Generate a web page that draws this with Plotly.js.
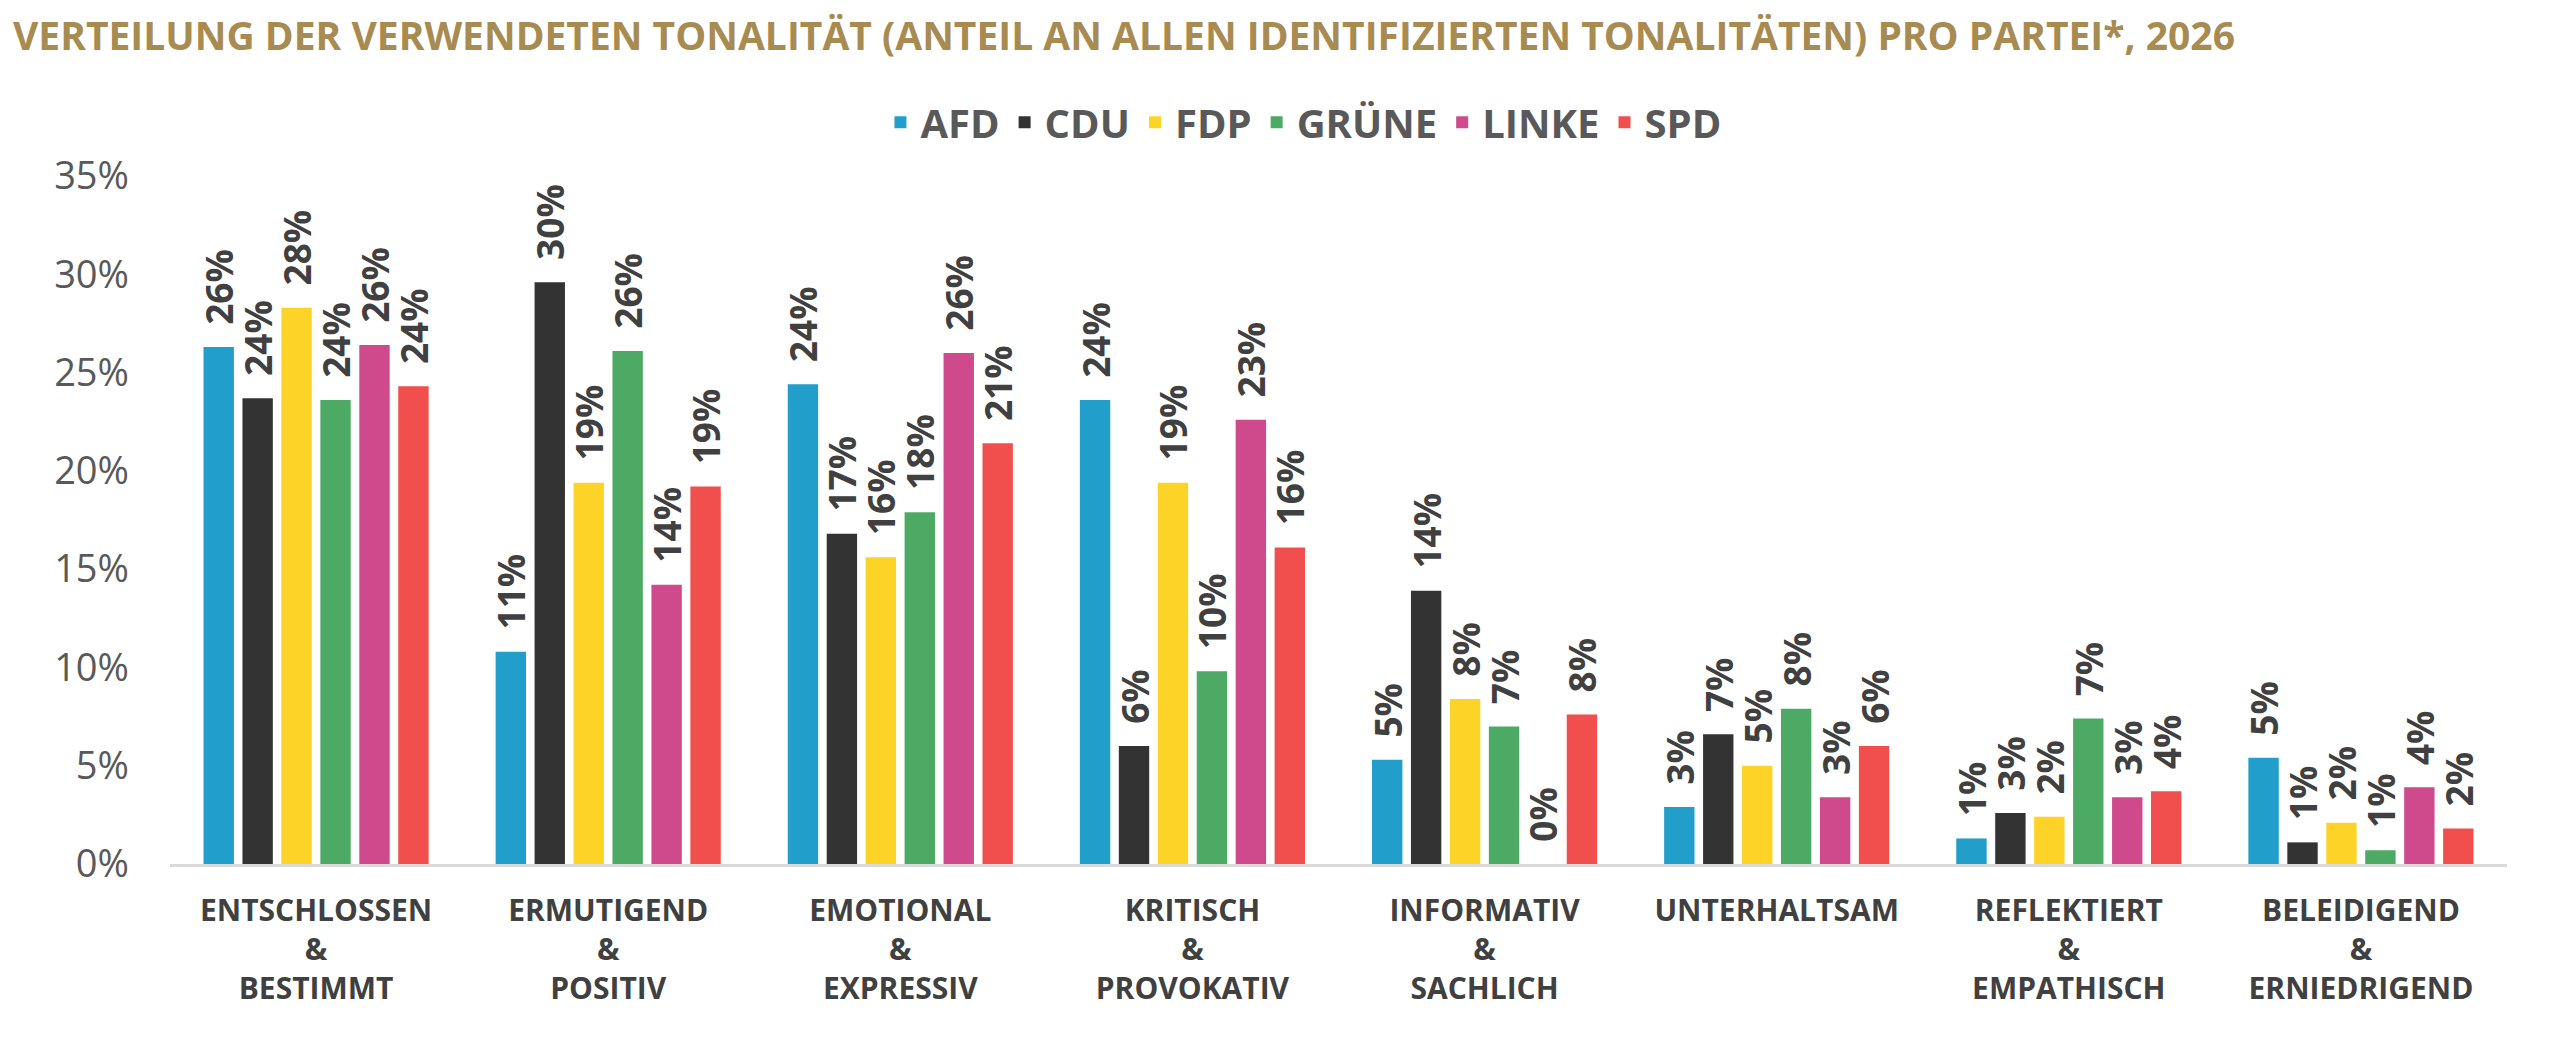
<!DOCTYPE html>
<html>
<head>
<meta charset="utf-8">
<script src="https://cdn.plot.ly/plotly-3.0.1.min.js"></script>
<style>
  html, body { margin: 0; padding: 0; background: #ffffff; }
  #chart { width: 2553px; height: 1054px; }
</style>
</head>
<body>
<div id="chart"></div>
<script>
const categories = [
  'ENTSCHLOSSEN<br>&<br>BESTIMMT',
  'ERMUTIGEND<br>&<br>POSITIV',
  'EMOTIONAL<br>&<br>EXPRESSIV',
  'KRITISCH<br>&<br>PROVOKATIV',
  'INFORMATIV<br>&<br>SACHLICH',
  'UNTERHALTSAM',
  'REFLEKTIERT<br>&<br>EMPATHISCH',
  'BELEIDIGEND<br>&<br>ERNIEDRIGEND'
];

const parties = ['AFD', 'CDU', 'FDP', 'GRÜNE', 'LINKE', 'SPD'];

const afd   = [26.3, 10.8, 24.4, 23.6, 5.3, 2.9, 1.3, 5.4];
const cdu   = [23.7, 29.6, 16.8, 6.0, 13.9, 6.6, 2.6, 1.1];
const fdp   = [28.3, 19.4, 15.6, 19.4, 8.4, 5.0, 2.4, 2.1];
const gruene= [23.6, 26.1, 17.9, 9.8, 7.0, 7.9, 7.4, 0.7];
const linke = [26.4, 14.2, 26.0, 22.6, 0.0, 3.4, 3.4, 3.9];
const spd   = [24.3, 19.2, 21.4, 16.1, 7.6, 6.0, 3.7, 1.8];

const seriesValues = [afd, cdu, fdp, gruene, linke, spd];
const colors = ['#219ECA', '#333333', '#FDD327', '#4DAA64', '#CF4A8D', '#F04F4E'];

const yTicks = [0, 5, 10, 15, 20, 25, 30, 35];

const traces = parties.map((p, i) => ({
  type: 'bar',
  name: p,
  x: categories,
  y: seriesValues[i],
  marker: { color: colors[i], line: { width: 0 } },
  texttemplate: '\u00A0\u00A0%{y:.0f}%',
  textposition: 'outside',
  textangle: -90,
  constraintext: 'none',
  cliponaxis: false,
  textfont: { family: 'Open Sans', size: 37, weight: 'bold', color: '#404040' },
  hoverinfo: 'skip'
}));

const layout = {
  width: 2553,
  height: 1054,
  paper_bgcolor: '#ffffff',
  plot_bgcolor: '#ffffff',
  margin: { l: 170, r: 46, t: 176, b: 190 },
  barmode: 'group',
  bargap: 0.2,
  bargroupgap: 0.22,
  title: {
    text: 'VERTEILUNG DER VERWENDETEN TONALITÄT (ANTEIL AN ALLEN IDENTIFIZIERTEN TONALITÄTEN) PRO PARTEI*, 2026',
    font: { family: 'Open Sans', size: 39, weight: 'bold', color: '#A88B50' },
    x: 13 / 2553,
    xanchor: 'left',
    xref: 'container',
    y: 1 - 36 / 1054,
    yanchor: 'middle',
    yref: 'container'
  },
  legend: {
    orientation: 'h',
    x: 0.485,
    xanchor: 'center',
    y: 1.078,
    yanchor: 'middle',
    font: { family: 'Open Sans', size: 40, weight: 'bold', color: '#595959' },
    itemwidth: 30,
    traceorder: 'normal'
  },
  xaxis: {
    type: 'category',
    showline: true,
    linecolor: '#d9d9d9',
    linewidth: 3,
    showgrid: false,
    zeroline: false,
    ticks: '',
    ticklabelstandoff: 18,
    tickfont: { family: 'Open Sans', size: 30, weight: 'bold', color: '#404040' }
  },
  yaxis: {
    range: [0, 35],
    tickvals: yTicks,
    ticktext: yTicks.map(v => v + '%'),
    showgrid: false,
    zeroline: false,
    showline: false,
    ticks: '',
    ticklabelstandoff: 40,
    tickfont: { family: 'Open Sans', size: 38, color: '#595959' }
  },
  hovermode: false
};

Plotly.newPlot('chart', traces, layout, { displayModeBar: false, staticPlot: true });
</script>
</body>
</html>
